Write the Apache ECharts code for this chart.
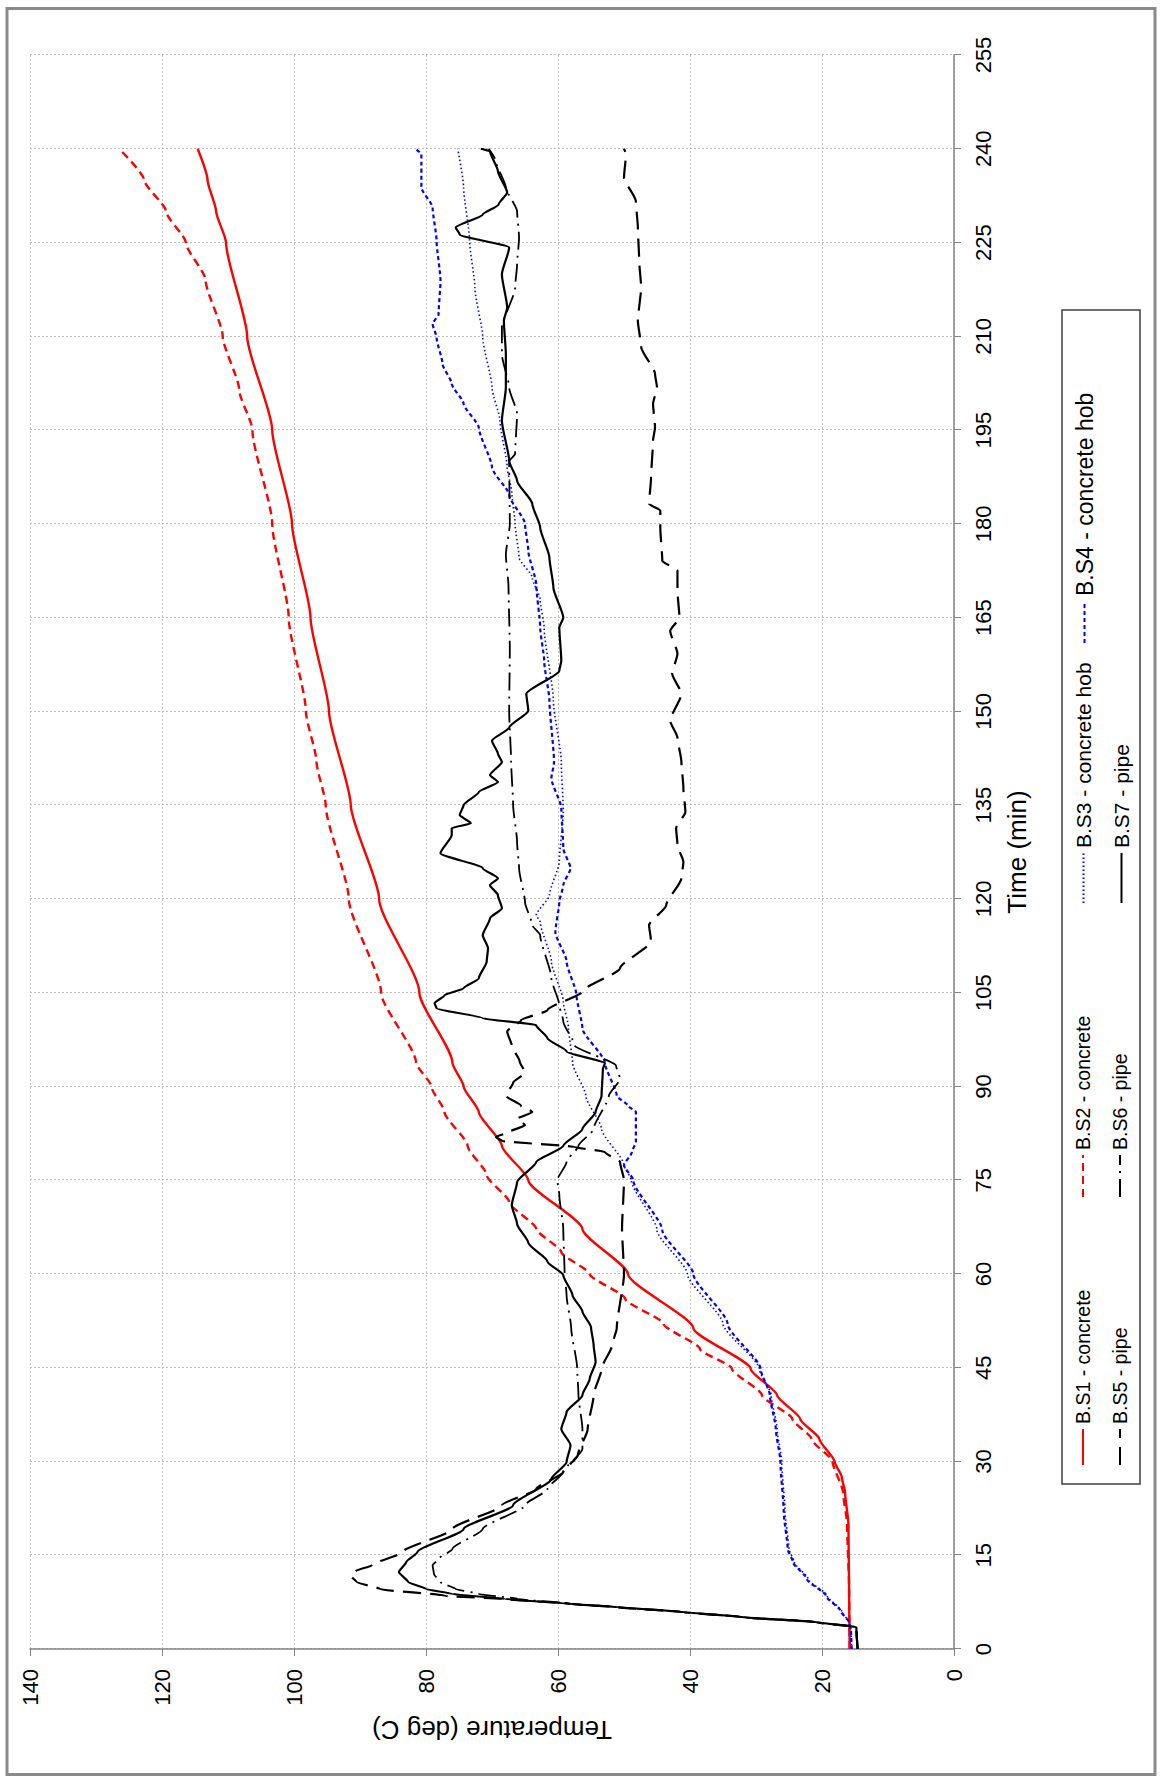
<!DOCTYPE html>
<html>
<head>
<meta charset="utf-8">
<script src="https://cdn.jsdelivr.net/npm/echarts@6/dist/echarts.min.js"></script>
<style>
html,body{margin:0;padding:0;background:#fff;overflow:hidden;width:1160px;height:1776px;}
#chart{position:absolute;left:0;top:0;width:1776px;height:1160px;transform-origin:0 0;transform:translate(0,1776px) rotate(-90deg);}
</style>
</head>
<body>
<div id="chart"></div>
<script>
const FONT = "'Liberation Sans', Arial, sans-serif";
const seriesNames = ['B.S1 - concrete','B.S2 - concrete','B.S3 - concrete hob','B.S4 - concrete hob','B.S5 - pipe','B.S6 - pipe','B.S7 - pipe'];

// [time (min), temperature (deg C)]
const bs1 = [[0,15.8],[10,15.9],[20,16.0],[25,16.5],[27.5,17],[30,18.1],[33.6,20.4],[36.8,23.3],[40.6,26.8],[44.8,30.8],[51.3,39.5],[60,49.4],[67.2,56.3],[75,64.5],[80.5,68.5],[85.9,72],[90,74.3],[93.8,76],[105,81],[120,87.1],[135,91.4],[150,94.7],[165,97.5],[180,100.3],[195,103.3],[210,107.1],[225,110.3],[230,111.8],[235,113.1],[240,114.6]];
const bs2 = [[0,15.8],[10,15.9],[20,16.2],[25,16.8],[30,18.4],[33.6,21.6],[36.8,24.5],[40.6,29.1],[44.9,33.7],[48,38.5],[52,44],[56,49.8],[60,55.2],[63.5,59.5],[67.2,63.3],[71.5,67.4],[75.8,70.8],[80.5,73.7],[85.9,77.2],[90,79.2],[93.8,81.5],[105,86.8],[120,91.7],[135,95.2],[142,96.6],[150,98.2],[165,100.8],[180,103.3],[195,106.3],[201.4,108.3],[210,110.8],[219,113.4],[225,116.4],[230,119.4],[235,122.7],[240,126.5]];
const bs3 = [[0,15.5],[3,15.6],[4.3,15.9],[6,17],[8.5,19.2],[11.2,22.1],[13.9,24.2],[16,25],[21.9,25.6],[29.9,26.1],[35.2,26.8],[40.6,27.7],[44.8,29.5],[52,35],[60,40.4],[67,45],[75,48.9],[77.4,50],[83.2,53.4],[88.5,55.8],[93.8,57.8],[99.3,58.4],[103.6,59.2],[110,61],[116.3,62.7],[117.4,63.3],[120.6,61.3],[126,59.8],[133.9,59.2],[141.9,59.5],[151.7,60.7],[163.4,62.1],[167.9,62.7],[171.4,63.9],[174.6,65.9],[180,66.5],[185,67],[189,67.7],[196.5,68.8],[201.8,70],[209.8,71.4],[217.8,72.6],[225.3,73.4],[233.8,74.3],[240,75.2]];
const bs4 = [[0,15.5],[3,15.6],[4.3,15.9],[6,17.1],[8.5,19.4],[11.2,22.3],[13.9,24.4],[16,25.2],[21.9,25.8],[29.9,26.3],[35.2,27],[40.6,27.9],[44.8,29.3],[52,34.3],[60,39.5],[67,44.2],[75,48.6],[77.4,50],[79.5,48.8],[81.1,48.2],[85.9,48.2],[86.9,49.4],[88.5,51.1],[93.8,52.9],[99.3,56.3],[104.6,57.2],[110,58.7],[114.7,60.4],[119.5,59.8],[122.2,59.2],[124.9,58.1],[128.1,59.2],[134.5,59.5],[139.3,61],[141.9,60.6],[151.7,61.3],[158.1,62.1],[163.4,62.7],[170.3,63.3],[175.7,64.5],[180,65],[184.6,67.4],[189,70],[195.4,72],[199.2,74.3],[202.4,76.1],[205.6,77.5],[209.8,78.4],[212,79],[213.5,78.1],[218.9,77.8],[225.3,78.4],[230.6,79],[233.8,80.7],[239.1,80.7],[240,81.6]];
const bs5 = [[0,14.6],[3.5,14.8],[4.3,21],[5.1,32],[5.9,41],[6.7,51],[7.2,58],[8,68],[8.5,77],[9.6,87],[10.7,90.5],[11.7,91.4],[12.5,90.6],[13.4,88.2],[15.5,83.6],[19.2,76],[23,68.5],[25.6,63.3],[28.3,59.2],[31,57],[35.2,55.5],[40.6,54.6],[44.8,53.4],[48.6,51.8],[51.3,51.1],[60,50],[67.2,50.3],[75,50],[77.9,50.6],[79.5,52.9],[80.3,57.5],[81.3,68.5],[81.9,69.4],[82.7,67.4],[83.8,65],[84.8,66.2],[85.9,63.9],[86.9,65.6],[88.5,67.9],[90.6,66.8],[92.2,65],[94,65.8],[96.5,67],[98.8,67.7],[100.6,65.6],[102.2,61.6],[105.2,56.3],[108.9,50.6],[113.2,45.9],[115.8,46.2],[119,43.6],[123.3,41.3],[125.9,41],[128.6,41.9],[131.3,42.1],[133.9,40.7],[137.7,41],[141.9,41.3],[145.8,41.9],[148.5,43],[152.8,41.3],[156,42.7],[159.2,41.9],[162.9,43],[165,41.6],[169.3,41.9],[172.5,41.9],[174.1,44.2],[179.4,44.5],[182.1,44.5],[183.2,46.2],[187.4,45.9],[193.3,45.6],[195.4,45.3],[199.2,45.6],[201.8,45],[204,45.3],[208.3,47.4],[212.5,47.9],[217.8,47.4],[222.1,47.7],[227.4,47.9],[231.6,48.2],[235.4,50],[239.1,49.7],[240,50]];
const bs6 = [[0,14.6],[3.5,14.8],[4.3,21],[5.1,32],[5.9,41],[6.7,51],[7.2,57.5],[8,66],[8.8,72],[9.6,75.5],[10.7,77.8],[12,78.8],[13.4,79],[14.4,78.1],[16,76],[19.2,71.4],[23,65],[25.6,61.6],[28.3,59.2],[32,56.3],[35.2,56.3],[40.6,56.9],[45,57.1],[51.3,58],[56.6,58.7],[60,59],[67.2,59.2],[72.6,59.8],[75,60.1],[77.9,58.7],[80.5,56.9],[83.2,54.6],[88.5,52.3],[91.2,50.6],[93.3,51.2],[96.6,57.5],[100.4,59.2],[103,59.8],[107.3,61],[114.2,62.7],[115.8,63.9],[119.5,65],[124.9,65.9],[129.1,66.2],[135,66.8],[141.9,67.1],[150,67.4],[160,67.3],[170,67.5],[175,67.9],[180,67.3],[190,67.4],[191.2,66.5],[197.6,66.2],[201.8,67.4],[207.1,68.5],[211.4,68.5],[217.8,66.5],[221.5,66.2],[225.8,65.9],[230,66.2],[233.8,67.9],[238,69.4],[240,70.5]];
const bs7 = [[0,14.6],[3.5,14.8],[4.3,21],[5.1,32],[5.9,41],[6.7,51],[7.2,58],[8,68],[8.8,76],[9.6,80],[10.7,82.7],[12.3,84.1],[13.9,83],[15.5,81.3],[19.2,74.3],[23,66.8],[27.2,61],[29.9,58.7],[32.6,58.1],[35.2,59.5],[37.9,58.7],[40.6,56.3],[43.2,55.2],[45.9,54.3],[48.6,54.6],[51.5,55],[54,56.3],[56.6,57.8],[59.8,59.2],[62,61.6],[65,64.5],[68,66.2],[71,67],[74.7,66.2],[77.9,63.3],[80.5,59.2],[83.2,56.3],[85.9,54.3],[88.5,53.4],[92.8,53.2],[93.7,52.9],[95.6,58.7],[97.7,61.6],[99.8,63.3],[100.9,71.4],[102.5,78.4],[103.3,78.7],[104.6,77.2],[105.7,74.3],[107.3,72],[110,70.8],[112.1,70.6],[114.2,71.4],[116.9,70.3],[118.5,68.5],[120.6,69.1],[122.2,70.3],[123.3,69.1],[124.9,71.4],[127.3,77.8],[130.2,76.1],[131.3,76.1],[132.1,73.2],[133.4,74.9],[135,74.3],[137.1,72],[138.7,69.1],[139.8,70.3],[141.9,68.5],[143.2,69.1],[145.3,70],[147.4,67.4],[150.1,64.5],[152.8,64.8],[156.5,59.8],[158.1,59.5],[163.4,59.8],[165,59.2],[169.8,60.7],[174.6,61.3],[179.4,62.7],[183.2,63.9],[186.9,66.2],[190.1,67.4],[196.5,68.5],[201.8,67.9],[207.1,67.9],[212.5,68.2],[214.6,67.7],[219.9,68.5],[224.2,67.4],[226.3,74.9],[227.4,75.5],[229.5,71.4],[231.1,69],[233,67.7],[236.4,69.1],[239.6,70.3],[240,71.7]];

const seriesData = [bs1, bs2, bs3, bs4, bs5, bs6, bs7];
const seriesStyles = [
  {color:'#ff0000', width:2.4, type:'solid'},
  {color:'#ff0000', width:2.4, type:[8,5]},
  {color:'#0000ff', width:1.6, type:[1.5,2.5]},
  {color:'#0000ff', width:2.2, type:[4,3]},
  {color:'#000000', width:2.2, type:[18,9]},
  {color:'#000000', width:1.8, type:[18,6,2,6]},
  {color:'#000000', width:2.2, type:'solid'}
];

const chart = echarts.init(document.getElementById('chart'), null, {renderer:'svg'});

function legendCol(left, itemWidth, fontSize, names) {
  return {
    orient:'vertical', left:left, top:1073, itemGap:17, itemWidth:itemWidth, itemHeight:12, padding:0,
    itemStyle:{opacity:0},
    textStyle:{fontFamily:FONT, fontSize:fontSize, color:'#000', lineHeight:20},
    data:names
  };
}

const option = {
  animation:false,
  backgroundColor:'#ffffff',
  grid:{left:127, right:55, top:30, bottom:206, containLabel:false},
  xAxis:{
    type:'value', min:0, max:255, interval:15,
    name:'Time (min)', nameLocation:'middle', nameGap:50,
    nameTextStyle:{fontFamily:FONT, fontSize:26, color:'#000'},
    axisLine:{show:true, onZero:false, lineStyle:{color:'#858585', width:1.5}},
    axisTick:{show:true, inside:false, length:7, lineStyle:{color:'#858585', width:1}},
    axisLabel:{fontFamily:FONT, fontSize:22, color:'#000', margin:18},
    splitLine:{show:true, lineStyle:{color:'#bdbdbd', width:1, type:[2,2]}}
  },
  yAxis:{
    type:'value', min:0, max:140, interval:20,
    name:'Temperature (deg C)', nameLocation:'middle', nameGap:64,
    nameTextStyle:{fontFamily:FONT, fontSize:26, color:'#000'},
    axisLine:{show:true, onZero:false, lineStyle:{color:'#858585', width:1.5}},
    axisTick:{show:true, inside:false, length:7, lineStyle:{color:'#858585', width:1}},
    axisLabel:{fontFamily:FONT, fontSize:22, color:'#000', margin:20},
    splitLine:{show:true, lineStyle:{color:'#bdbdbd', width:1, type:[2,2]}}
  },
  legend:[
    legendCol(310, 36, 19.5, [seriesNames[0], seriesNames[4]]),
    legendCol(578, 42, 19.5, [seriesNames[1], seriesNames[5]]),
    legendCol(872, 50, 21, [seriesNames[2], seriesNames[6]]),
    legendCol(1132, 42, 23, [seriesNames[3]])
  ],
  graphic:[
    {type:'rect', silent:true, z:-1, shape:{x:1.5, y:7, width:1766, height:1148}, style:{fill:'none', stroke:'#8a8a8a', lineWidth:3}},
    {type:'rect', silent:true, shape:{x:292, y:1062, width:1174, height:78}, style:{fill:'none', stroke:'#404040', lineWidth:1.5}}
  ],
  series: seriesNames.map((n, i) => ({
    name:n, type:'line', data:seriesData[i], symbol:'none', showSymbol:false,
    smooth:0.2, smoothMonotone:'x',
    lineStyle:{color:seriesStyles[i].color, width:seriesStyles[i].width, type:seriesStyles[i].type},
    itemStyle:{color:seriesStyles[i].color},
    emphasis:{disabled:true}
  }))
};
chart.setOption(option);
</script>
</body>
</html>
